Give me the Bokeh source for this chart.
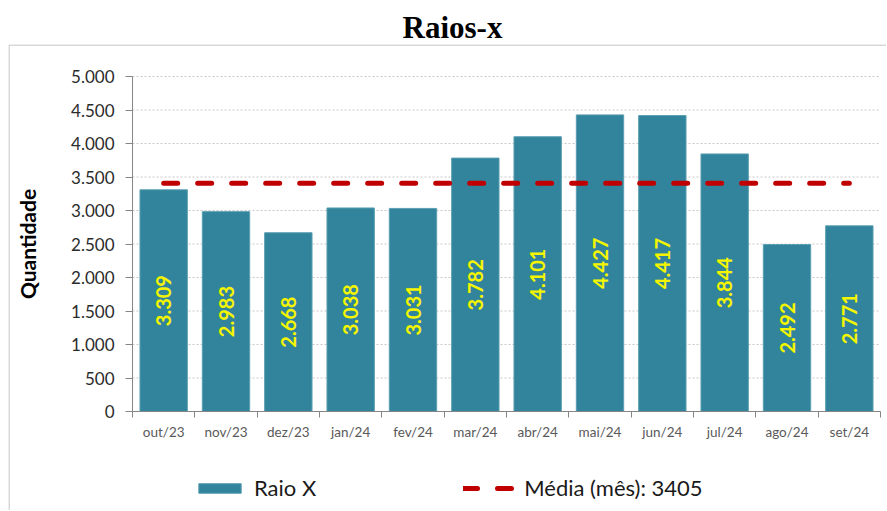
import math
from bokeh.plotting import figure
from bokeh.embed import file_html
from bokeh.resources import INLINE
from bokeh.core.properties import value
from bokeh.models import (ColumnDataSource, Range1d, FixedTicker, BoxAnnotation,
                          Legend, LegendItem)

# ---- data ----
months = ["out/23", "nov/23", "dez/23", "jan/24", "fev/24", "mar/24",
          "abr/24", "mai/24", "jun/24", "jul/24", "ago/24", "set/24"]
raio_x = [3309, 2983, 2668, 3038, 3031, 3782, 4101, 4427, 4417, 3844, 2492, 2771]
raio_x_labels = ["3.309", "2.983", "2.668", "3.038", "3.031", "3.782",
                 "4.101", "4.427", "4.417", "3.844", "2.492", "2.771"]
media_mes = 3405
y_ticks = [0, 500, 1000, 1500, 2000, 2500, 3000, 3500, 4000, 4500, 5000]
y_tick_labels = ["0", "500", "1.000", "1.500", "2.000", "2.500", "3.000",
                 "3.500", "4.000", "4.500", "5.000"]

n = len(months)
centers = [i + 0.5 for i in range(n)]
bounds = [i for i in range(n + 1)]
y_max = y_ticks[-1]

src = ColumnDataSource(dict(x=centers, top=raio_x, lab=raio_x_labels,
                            ly=[v / 2 for v in raio_x]))

# ---- layout (pixels) ----
W, H = 886, 510
box_left, box_top = 8, 44          # outer framed box
ax_left, ax_right = 132, 880       # plot area in page pixels
ax_top, ax_bottom = 76, 411
px_x = (ax_right - ax_left) / n
px_y = (ax_bottom - ax_top) / y_max
x_range = Range1d(-(ax_left - box_left) / px_x, n + (W - ax_right) / px_x)
y_range = Range1d(-(H - ax_bottom) / px_y, y_max + (ax_top - box_top) / px_y)

p = figure(width=W, height=H, output_backend="svg", toolbar_location=None,
           x_range=x_range, y_range=y_range,
           min_border_left=box_left, min_border_right=0,
           min_border_top=box_top, min_border_bottom=0)
p.outline_line_color = None
p.background_fill_color = "white"
p.border_fill_color = "white"

# title
p.title.text = "Raios-x"
p.title.align = "left"
p.title.offset = 394
p.title.text_font = "Liberation Serif"
p.title.text_font_style = "bold"
p.title.text_font_size = "31px"
p.title.text_color = "#000000"
p.title.standoff = 0

# outer box border (only left & top edges visible)
p.add_layout(BoxAnnotation(left=x_range.start, right=x_range.end + 10,
                           top=y_range.end, bottom=y_range.start - 1000,
                           fill_alpha=0, line_color="#808080", line_width=3))

# gridlines along the y ticks, spanning the category axis
p.segment(x0=[bounds[0]] * len(y_ticks), x1=[bounds[-1]] * len(y_ticks),
          y0=y_ticks, y1=y_ticks, line_color="#C8C8C8", line_dash="2 2",
          line_width=1)

bars = p.vbar(x="x", top="top", width=0.76, source=src, fill_color="#31849B",
              line_color="#5A9FB2", line_width=1)

avg = p.line(x=[centers[0], centers[-1]], y=[media_mes, media_mes],
             line_color="#C00000", line_width=5, line_dash="14 20",
             line_cap="round")

p.text(x="x", y="ly", text="lab", source=src, angle=math.pi / 2,
       text_align="center", text_baseline="middle",
       text_font=value("Lato"), text_font_style="bold",
       text_font_size="20px", text_color="#F5F500")

# axes, pinned at 0 inside the frame
p.yaxis.fixed_location = 0
p.yaxis.bounds = (0, y_max)
p.yaxis.ticker = FixedTicker(ticks=y_ticks)
p.yaxis.major_label_overrides = {t: l for t, l in zip(y_ticks, y_tick_labels)}
p.yaxis.major_label_text_font = "Lato"
p.yaxis.major_label_text_font_size = "17px"
p.yaxis.major_label_text_color = "#2B2B2B"
p.yaxis.major_tick_out = 7
p.yaxis.major_tick_in = 0
p.yaxis.minor_tick_line_color = None
p.yaxis.major_label_standoff = 11
p.yaxis.axis_line_color = "#868686"
p.yaxis.major_tick_line_color = "#868686"
p.yaxis.axis_label = "Quantidade"
p.yaxis.axis_label_text_font = "Lato"
p.yaxis.axis_label_text_font_style = "bold"
p.yaxis.axis_label_text_font_size = "21px"
p.yaxis.axis_label_text_color = "#000000"
p.yaxis.axis_label_standoff = 28

p.xaxis.fixed_location = 0
p.xaxis.bounds = (0, n)
p.xaxis.ticker = FixedTicker(ticks=centers, minor_ticks=bounds)
p.xaxis.major_label_overrides = {c: m for c, m in zip(centers, months)}
p.xaxis.major_tick_out = 0
p.xaxis.major_tick_in = 0
p.xaxis.minor_tick_out = 6
p.xaxis.minor_tick_in = 0
p.xaxis.minor_tick_line_color = "#868686"
p.xaxis.axis_line_color = "#868686"
p.xaxis.major_label_text_font = "Lato"
p.xaxis.major_label_text_font_size = "13.5px"
p.xaxis.major_label_text_color = "#595959"
p.xaxis.major_label_standoff = 6

p.xgrid.grid_line_color = None
p.ygrid.grid_line_color = None

legend = Legend(items=[LegendItem(label="Raio X", renderers=[bars]),
                       LegendItem(label="Média (mês): 3405", renderers=[avg])],
                orientation="horizontal", location=(185, 9),
                glyph_width=53, glyph_height=12, label_standoff=8,
                spacing=147, padding=0, margin=0,
                border_line_color=None, background_fill_alpha=0,
                label_text_font="Lato", label_text_font_size="22px",
                label_text_color="#1A1A1A")
p.add_layout(legend, "center")

open("out.html", "w").write(file_html(p, INLINE))
